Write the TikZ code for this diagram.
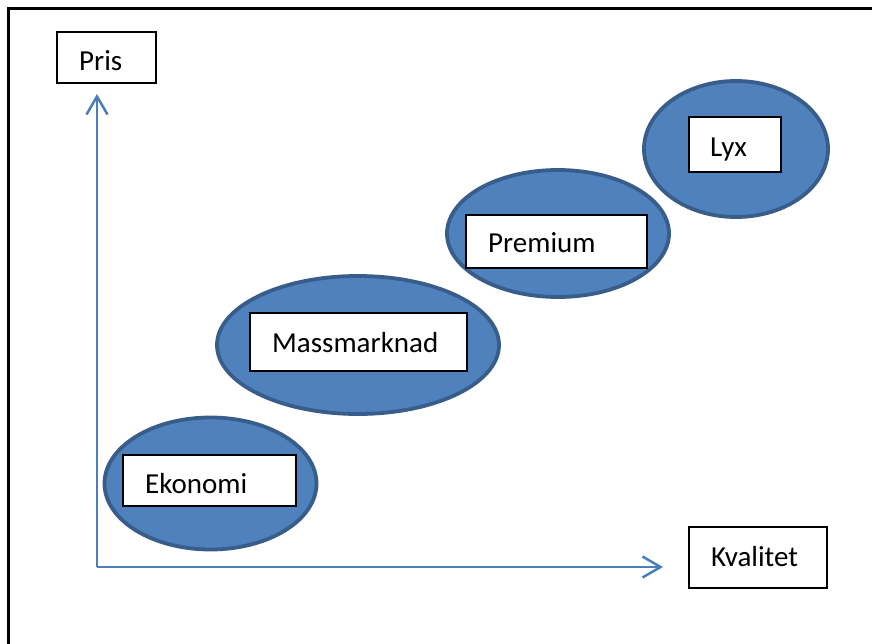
\documentclass[tikz,border=0pt]{standalone}
\usepackage{fontspec}
\setmainfont{Carlito}
\usetikzlibrary{arrows.meta,shapes.geometric}
\definecolor{ellfill}{HTML}{4F81BD}
\definecolor{elldraw}{HTML}{385D8A}
\definecolor{axiscol}{HTML}{4A7EBB}
\tikzset{
  segment/.style={ellipse, fill=ellfill, draw=elldraw, line width=3.8pt, inner sep=0pt},
  labelbox/.style={rectangle, fill=white, draw=black, line width=2pt, inner sep=0pt},
  labeltext/.style={anchor=base west, inner sep=0pt, font=\fontsize{29}{35}\selectfont},
  axis/.style={draw=axiscol, line width=2.5pt, -{Straight Barb[length=18pt,width=21pt,line width=2.5pt]}},
  frameline/.style={draw=black, line width=3pt}
}
\begin{document}
\begin{tikzpicture}[x=1pt,y=-1pt]
\useasboundingbox[fill=white] (0,0) rectangle (872,644);
% frame
\draw[frameline] (8,644) -- (8,9) -- (872,9);
% axes
\coordinate (origin) at (97,567);
\coordinate (ytip) at (97,94);
\coordinate (xtip) at (663,567);
\draw[axis] (origin) -- (ytip);
\draw[axis] (origin) -- (xtip);
% axis labels
\node[labelbox, minimum width=99pt, minimum height=51pt] (prisbox) at (106.5,57.5) {};
\node[labeltext] (pris) at (79,71) {Pris};
\node[labelbox, minimum width=138pt, minimum height=61pt] (kvalbox) at (758,557.5) {};
\node[labeltext] (kval) at (711,566) {Kvalitet};
% segments
\node[segment, minimum width=212pt, minimum height=132pt] (ekoell) at (210.5,483.5) {};
\node[labelbox, minimum width=173pt, minimum height=51pt] (ekobox) at (209.5,480.5) {};
\node[labeltext] (eko) at (145,493) {Ekonomi};

\node[segment, minimum width=282pt, minimum height=138pt] (massell) at (358,345) {};
\node[labelbox, minimum width=217pt, minimum height=58pt] (massbox) at (358.5,342) {};
\node[labeltext] (mass) at (272,352) {Massmarknad};

\node[segment, minimum width=222pt, minimum height=127pt] (premell) at (558,233.5) {};
\node[labelbox, minimum width=181pt, minimum height=53pt] (prembox) at (556.5,241.5) {};
\node[labeltext] (prem) at (488,253) {Premium};

\node[segment, minimum width=184pt, minimum height=136pt] (lyxell) at (736,149) {};
\node[labelbox, minimum width=92pt, minimum height=55pt] (lyxbox) at (735,144.5) {};
\node[labeltext] (lyx) at (710,157) {Lyx};
\end{tikzpicture}
\end{document}
